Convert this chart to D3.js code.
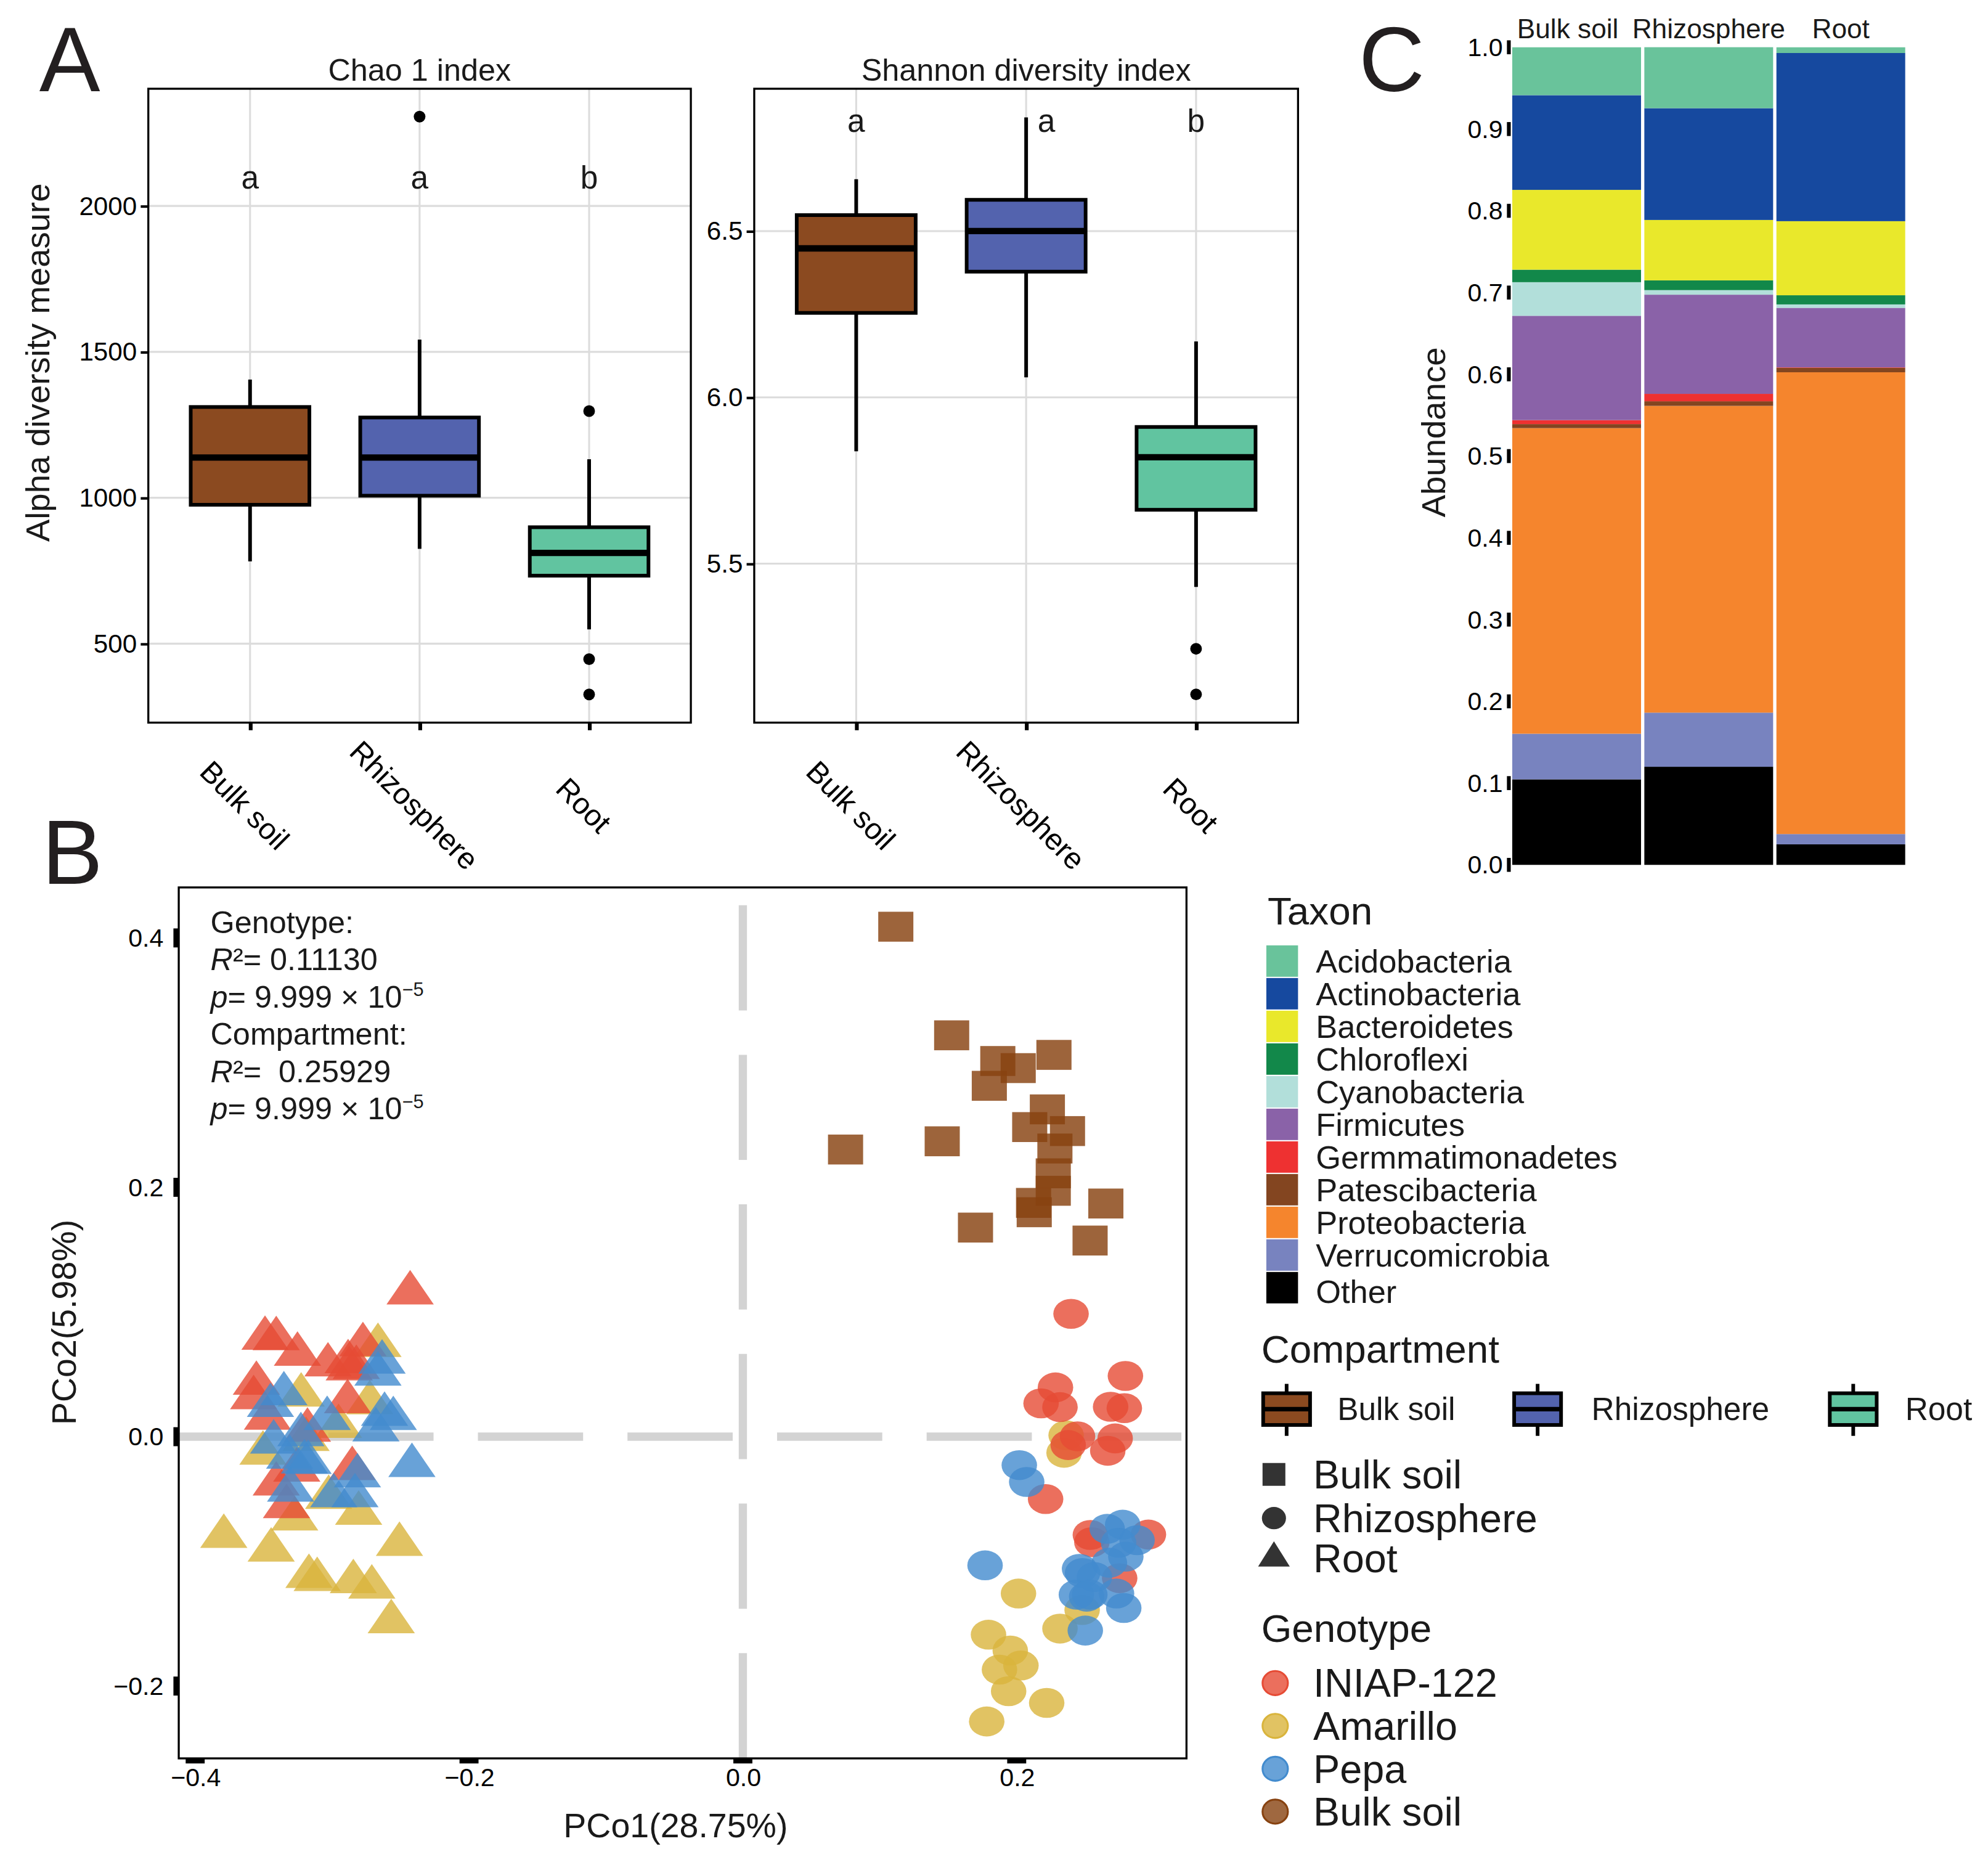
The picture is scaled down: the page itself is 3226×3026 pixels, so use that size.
<!DOCTYPE html>
<html>
<head>
<meta charset="utf-8">
<script src="https://cdn.jsdelivr.net/npm/d3@7"></script>
<style>
  body { margin: 0; background: #fff; }
  svg text { font-family: "Liberation Sans", Arial, Helvetica, sans-serif; }
</style>
</head>
<body>
<div id="chart"></div>
<script>
// ---------------- data ----------------
const compartments = ["Bulk soil", "Rhizosphere", "Root"];
const compartmentColors = ["#8b4a20", "#5363ae", "#61c4a0"];

// boxplot stats per compartment: [lower whisker, Q1, median, Q3, upper whisker]
const chaoStats = [
  [782, 976, 1138, 1311, 1405],
  [825, 1007, 1138, 1275, 1542],
  [549, 733, 811, 899, 1132]
];
const chaoOutliers = [[], [2306], [1297, 447, 326]];
const chaoLetters = ["a", "a", "b"];
const chaoTicks = [500, 1000, 1500, 2000];

const shannonStats = [
  [5.838, 6.254, 6.448, 6.548, 6.656],
  [6.060, 6.378, 6.500, 6.594, 6.842],
  [5.430, 5.662, 5.820, 5.911, 6.168]
];
const shannonOutliers = [[], [], [5.244, 5.107]];
const shannonLetters = ["a", "a", "b"];
const shannonTicks = [5.5, 6.0, 6.5];

const taxa = ["Acidobacteria", "Actinobacteria", "Bacteroidetes", "Chloroflexi", "Cyanobacteria",
  "Firmicutes", "Germmatimonadetes", "Patescibacteria", "Proteobacteria", "Verrucomicrobia", "Other"];
const taxaColors = ["#69c39b", "#16499f", "#e9e82b", "#12884a", "#b2dfda",
  "#8a62a8", "#ee3131", "#834520", "#f5852d", "#7883bf", "#000000"];
const abundBulk  = [0.0586, 0.1158, 0.0976, 0.0153, 0.0411, 0.1276, 0.0049, 0.0049, 0.3738, 0.0558, 0.1046];
const abundRhizo = [0.0746, 0.1367, 0.0739, 0.0119, 0.0056, 0.1213, 0.0091, 0.0056, 0.3752, 0.0662, 0.1200];
const abundRoot  = [0.0070, 0.2057, 0.0906, 0.0112, 0.0042, 0.0728, 0.0005, 0.0055, 0.5648, 0.0126, 0.0251];
const abundTicks = [0, 0.1, 0.2, 0.3, 0.4, 0.5, 0.6, 0.7, 0.8, 0.9, 1.0];

const genotypes = ["INIAP-122", "Amarillo", "Pepa", "Bulk soil"];
const genotypeColors = ["#e64b35", "#d9b43c", "#428bce", "#874210"];

// PCoA scores [PCo1, PCo2]
const bulkSoilPts = [[0.1117, 0.4090], [0.1525, 0.3219], [0.1862, 0.3013], [0.2011, 0.2956], [0.2272, 0.3062],
  [0.1800, 0.2814], [0.2224, 0.2625], [0.2095, 0.2483], [0.2371, 0.2451], [0.1456, 0.2369], [0.0750, 0.2303],
  [0.2279, 0.2311], [0.2267, 0.2112], [0.2267, 0.1972], [0.2123, 0.1875], [0.2128, 0.1800], [0.2651, 0.1870],
  [0.1699, 0.1677], [0.2536, 0.1573]];
const rhizoIniap = [[0.2397, 0.0985], [0.2283, 0.0395], [0.2178, 0.0267], [0.2316, 0.0237], [0.2794, 0.0487],
  [0.2686, 0.0240], [0.2786, 0.0229], [0.2444, 0.0003], [0.2719, -0.0014], [0.2665, -0.0113], [0.2376, -0.0067],
  [0.2211, -0.0500], [0.2538, -0.0788], [0.2549, -0.0846], [0.2962, -0.0785], [0.2752, -0.1135]];
const rhizoAmarillo = [[0.2361, 0.0011], [0.2346, -0.0129], [0.2013, -0.1258], [0.2478, -0.1390], [0.2316, -0.1539],
  [0.1794, -0.1588], [0.1953, -0.1715], [0.2031, -0.1835], [0.1874, -0.1868], [0.1941, -0.2041], [0.2219, -0.2135],
  [0.1781, -0.2284]];
const rhizoPepa = [[0.2019, -0.0228], [0.2073, -0.0363], [0.1769, -0.1032], [0.2661, -0.0739], [0.2774, -0.0706],
  [0.2879, -0.0830], [0.2744, -0.0851], [0.2797, -0.0962], [0.2677, -0.1011], [0.2459, -0.1060], [0.2481, -0.1093],
  [0.2568, -0.1126], [0.2436, -0.1267], [0.2511, -0.1283], [0.2534, -0.1267], [0.2729, -0.1258], [0.2782, -0.1374],
  [0.2501, -0.1555]];
const rootIniap = [[-0.2430, 0.1153], [-0.3490, 0.0789], [-0.3408, 0.0786], [-0.3253, 0.0661], [-0.2775, 0.0738],
  [-0.3030, 0.0575], [-0.2883, 0.0601], [-0.2875, 0.0544], [-0.2823, 0.0555], [-0.3553, 0.0428], [-0.3573, 0.0313],
  [-0.2887, 0.0280], [-0.3472, 0.0148], [-0.3180, 0.0052], [-0.2853, -0.0256], [-0.3408, -0.0380], [-0.3258, -0.0268],
  [-0.3333, -0.0561]];
const rootAmarillo = [[-0.2665, 0.0731], [-0.3226, 0.0334], [-0.2725, 0.0272], [-0.2953, 0.0082], [-0.3505, -0.0132],
  [-0.3190, -0.0022], [-0.3025, -0.0487], [-0.3791, -0.0800], [-0.3445, -0.0910], [-0.3273, -0.0660], [-0.2806, -0.0614],
  [-0.2508, -0.0864], [-0.3169, -0.1121], [-0.3109, -0.1146], [-0.2845, -0.1163], [-0.2710, -0.1206], [-0.2568, -0.1484]];
const rootPepa = [[-0.2635, 0.0598], [-0.2665, 0.0502], [-0.3352, 0.0344], [-0.3450, 0.0250], [-0.3036, 0.0146],
  [-0.2617, 0.0179], [-0.2553, 0.0145], [-0.2680, 0.0054], [-0.3427, -0.0043], [-0.3228, 0.0016], [-0.3310, -0.0165],
  [-0.3202, -0.0203], [-0.3175, -0.0207], [-0.2815, -0.0314], [-0.2833, -0.0474], [-0.2417, -0.0231], [-0.3303, -0.0429],
  [-0.2988, -0.0474]];
const pcoTicksX = [-0.4, -0.2, 0.0, 0.2];
const pcoTicksY = [-0.2, 0.0, 0.2, 0.4];

// ---------------- svg ----------------
// work in 1568 x 1471 units, scaled up to the full window
const W = 1568.3, H = 1471.1;
const svg = d3.select("#chart").append("svg")
  .attr("width", 3226).attr("height", 3026)
  .attr("viewBox", [0, 0, W, H]);

const ink = "#1a1a1a";

function panelLetter(x, y, t) {
  svg.append("text").attr("x", x).attr("y", y).attr("font-size", 72)
    .attr("fill", "#231f20").text(t);
}
panelLetter(31, 72, "A");
panelLetter(33, 697, "B");
panelLetter(1072, 72, "C");

// ---------------- panel A: boxplots ----------------
function boxPanel(p) {
  const x = d3.scalePoint().domain(compartments).range([p.left, p.right]).padding(0.6);
  const y = d3.scaleLinear().domain(p.domain).range([p.bottom, p.top]);
  const bw = x.step() * 0.7;
  const g = svg.append("g");

  // grid
  g.append("g").selectAll("line").data(p.ticks).join("line")
    .attr("x1", p.left).attr("x2", p.right)
    .attr("y1", d => y(d)).attr("y2", d => y(d))
    .attr("stroke", "#dcdcdc").attr("stroke-width", 1.5);
  g.append("g").selectAll("line").data(compartments).join("line")
    .attr("x1", d => x(d)).attr("x2", d => x(d))
    .attr("y1", p.top).attr("y2", p.bottom)
    .attr("stroke", "#dcdcdc").attr("stroke-width", 1.5);

  const boxes = g.append("g").selectAll("g").data(p.stats).join("g")
    .attr("transform", (d, i) => `translate(${x(compartments[i])},0)`);
  boxes.append("line").attr("y1", d => y(d[0])).attr("y2", d => y(d[1]))
    .attr("stroke", "#000").attr("stroke-width", 2.9);
  boxes.append("line").attr("y1", d => y(d[3])).attr("y2", d => y(d[4]))
    .attr("stroke", "#000").attr("stroke-width", 2.9);
  boxes.append("rect")
    .attr("x", -bw / 2).attr("width", bw)
    .attr("y", d => y(d[3])).attr("height", d => y(d[1]) - y(d[3]))
    .attr("fill", (d, i) => compartmentColors[i])
    .attr("stroke", "#000").attr("stroke-width", 2.9);
  boxes.append("line").attr("x1", -bw / 2).attr("x2", bw / 2)
    .attr("y1", d => y(d[2])).attr("y2", d => y(d[2]))
    .attr("stroke", "#000").attr("stroke-width", 5);
  boxes.each(function (d, i) {
    d3.select(this).selectAll("circle").data(p.outliers[i]).join("circle")
      .attr("cy", v => y(v)).attr("r", 4.6).attr("fill", "#000");
  });

  // significance letters
  g.append("g").selectAll("text").data(p.letters).join("text")
    .attr("x", (d, i) => x(compartments[i]) + p.letterNudge[i])
    .attr("y", y(p.letterAt) + 9)
    .attr("text-anchor", "middle").attr("font-size", 25).attr("fill", ink)
    .text(d => d);

  g.append("rect").attr("x", p.left).attr("y", p.top)
    .attr("width", p.right - p.left).attr("height", p.bottom - p.top)
    .attr("fill", "none").attr("stroke", "#000").attr("stroke-width", 1.6);

  g.append("text").attr("x", (p.left + p.right) / 2).attr("y", 63.5)
    .attr("text-anchor", "middle").attr("font-size", 24.5).attr("fill", ink)
    .text(p.title);

  const ya = g.append("g").attr("transform", `translate(${p.left},0)`)
    .call(d3.axisLeft(y).tickValues(p.ticks).tickSize(6).tickPadding(3).tickFormat(d3.format(p.fmt)));
  ya.select(".domain").remove();
  ya.selectAll("line").attr("stroke", "#000").attr("stroke-width", 2);
  ya.selectAll("text").attr("font-size", 20.5).attr("fill", "#000");

  const xa = g.append("g").attr("transform", `translate(0,${p.bottom})`)
    .call(d3.axisBottom(x).tickSize(6).tickFormat(""));
  xa.select(".domain").remove();
  xa.selectAll("line").attr("stroke", "#000").attr("stroke-width", 3);

  g.append("g").selectAll("text").data(compartments).join("text")
    .attr("transform", d => `translate(${x(d) - 10},641) rotate(45)`)
    .attr("text-anchor", "middle").attr("font-size", 23.5).attr("fill", "#000")
    .text(d => d);
}

boxPanel({
  left: 117, right: 545, top: 70, bottom: 570,
  domain: [229.5, 2401.5], ticks: chaoTicks, fmt: "d",
  stats: chaoStats, outliers: chaoOutliers,
  letters: chaoLetters, letterAt: 2098, letterNudge: [0, 0, 0],
  title: "Chao 1 index"
});
boxPanel({
  left: 595, right: 1024, top: 70, bottom: 570,
  domain: [5.022, 6.928], ticks: shannonTicks, fmt: ".1f",
  stats: shannonStats, outliers: shannonOutliers,
  letters: shannonLetters, letterAt: 6.833, letterNudge: [0, 16, 0],
  title: "Shannon diversity index"
});

svg.append("text").attr("transform", "translate(39,286) rotate(-90)")
  .attr("text-anchor", "middle").attr("font-size", 26.5).attr("fill", ink)
  .text("Alpha diversity measure");

// ---------------- panel C: stacked bars ----------------
{
  const rows = compartments.map((c, i) => {
    const r = { compartment: c };
    const vals = [abundBulk, abundRhizo, abundRoot][i];
    taxa.forEach((t, j) => { r[t] = vals[j]; });
    return r;
  });
  const series = d3.stack().keys(taxa.slice().reverse())(rows);
  const color = d3.scaleOrdinal(taxa, taxaColors);
  const xb = d3.scaleBand().domain(compartments).range([1193, 1503]).paddingInner(0.025);
  const yb = d3.scaleLinear().domain([0, 1]).range([682.2, 37.3]);
  const g = svg.append("g");

  g.selectAll("g").data(series).join("g")
    .attr("fill", s => color(s.key))
    .selectAll("rect").data(s => s).join("rect")
    .attr("x", d => xb(d.data.compartment))
    .attr("width", xb.bandwidth())
    .attr("y", d => yb(d[1]))
    .attr("height", d => Math.max(0, yb(d[0]) - yb(d[1])));

  const ya = g.append("g").attr("transform", "translate(1193,0)")
    .call(d3.axisLeft(yb).tickValues(abundTicks).tickSize(0).tickPadding(7.5).tickFormat(d3.format(".1f")));
  ya.select(".domain").remove();
  ya.selectAll("text").attr("font-size", 20).attr("fill", "#000");
  g.append("g").selectAll("rect").data(abundTicks).join("rect")
    .attr("x", 1188.8).attr("width", 3).attr("y", d => yb(d) - 5.5).attr("height", 11)
    .attr("fill", "#000");

  g.append("g").selectAll("text").data(compartments).join("text")
    .attr("x", d => xb(d) + xb.bandwidth() / 2 - (d === "Bulk soil" ? 7 : 0))
    .attr("y", 30).attr("text-anchor", "middle").attr("font-size", 21.5).attr("fill", ink)
    .text(d => d);

  svg.append("text").attr("transform", "translate(1140,341) rotate(-90)")
    .attr("text-anchor", "middle").attr("font-size", 26.5).attr("fill", ink)
    .text("Abundance");
}

// ---------------- panel B: PCoA ----------------
{
  const left = 141, right = 936, top = 700, bottom = 1387;
  const px = d3.scaleLinear().domain([-0.412, 0.324]).range([left, right]);
  const py = d3.scaleLinear().domain([-0.258, 0.4405]).range([bottom, top]);
  const g = svg.append("g");

  // long-dashed reference lines
  g.append("line").attr("x1", px(0)).attr("x2", px(0)).attr("y1", bottom).attr("y2", top)
    .attr("stroke", "#d3d3d3").attr("stroke-width", 6.5).attr("stroke-dasharray", "83 35");
  g.append("line").attr("x1", left).attr("x2", right).attr("y1", py(0)).attr("y2", py(0))
    .attr("stroke", "#d3d3d3").attr("stroke-width", 6.5).attr("stroke-dasharray", "83 35");

  const tw = 37.3, th = 27.2;
  const tri = `M0,${-2 * th / 3}L${tw / 2},${th / 3}L${-tw / 2},${th / 3}Z`;
  const alpha = 0.8;

  function triangles(pts, col) {
    g.append("g").selectAll("path").data(pts).join("path")
      .attr("d", tri).attr("transform", d => `translate(${px(d[0])},${py(d[1])})`)
      .attr("fill", col).attr("fill-opacity", alpha);
  }
  function ellipses(pts, col) {
    g.append("g").selectAll("ellipse").data(pts).join("ellipse")
      .attr("cx", d => px(d[0])).attr("cy", d => py(d[1]))
      .attr("rx", 14).attr("ry", 11.8)
      .attr("fill", col).attr("fill-opacity", alpha);
  }
  triangles(rootAmarillo, genotypeColors[1]);
  triangles(rootIniap, genotypeColors[0]);
  triangles(rootPepa, genotypeColors[2]);
  ellipses(rhizoAmarillo, genotypeColors[1]);
  ellipses(rhizoIniap, genotypeColors[0]);
  ellipses(rhizoPepa, genotypeColors[2]);
  g.append("g").selectAll("rect").data(bulkSoilPts).join("rect")
    .attr("x", d => px(d[0]) - 13.85).attr("y", d => py(d[1]) - 11.8)
    .attr("width", 27.7).attr("height", 23.6)
    .attr("fill", genotypeColors[3]).attr("fill-opacity", 0.82);

  g.append("rect").attr("x", left).attr("y", top)
    .attr("width", right - left).attr("height", bottom - top)
    .attr("fill", "none").attr("stroke", "#000").attr("stroke-width", 1.6);

  // axes
  const ya = g.append("g").attr("transform", `translate(${left},0)`)
    .call(d3.axisLeft(py).tickValues(pcoTicksY).tickSize(0).tickPadding(12).tickFormat(d3.format(".1f")));
  ya.select(".domain").remove();
  ya.selectAll("text").attr("font-size", 20).attr("fill", "#000");
  g.append("g").selectAll("rect").data(pcoTicksY).join("rect")
    .attr("x", left - 4.2).attr("width", 4.2).attr("y", d => py(d) - 7.5).attr("height", 15)
    .attr("fill", "#000");

  const xa = g.append("g").attr("transform", `translate(0,${bottom})`)
    .call(d3.axisBottom(px).tickValues(pcoTicksX).tickSize(0).tickPadding(7.5).tickFormat(d3.format(".1f")));
  xa.select(".domain").remove();
  xa.selectAll("text").attr("font-size", 20).attr("fill", "#000");
  g.append("g").selectAll("rect").data(pcoTicksX).join("rect")
    .attr("x", d => px(d) - 7.5).attr("width", 15).attr("y", bottom).attr("height", 4)
    .attr("fill", "#000");

  g.append("text").attr("x", 533).attr("y", 1449).attr("text-anchor", "middle")
    .attr("font-size", 27).attr("fill", ink).text("PCo1(28.75%)");
  g.append("text").attr("transform", "translate(60,1043) rotate(-90)").attr("text-anchor", "middle")
    .attr("font-size", 27).attr("fill", ink).text("PCo2(5.98%)");

  // PERMANOVA annotation
  const ann = g.append("g").attr("font-size", 24.5).attr("fill", ink);
  const lh = 29.4, ax = 166, ay = 736;
  function statLines(t, y0, r2, pv) {
    ann.append("text").attr("x", ax).attr("y", y0).text(t);
    const a = ann.append("text").attr("x", ax).attr("y", y0 + lh);
    a.append("tspan").attr("font-style", "italic").text("R");
    a.append("tspan").text("\u00b2= " + r2);
    const b = ann.append("text").attr("x", ax).attr("y", y0 + 2 * lh);
    b.append("tspan").attr("font-style", "italic").text("p");
    b.append("tspan").text("= " + pv + " \u00d7 10");
    b.append("tspan").attr("font-size", 15).attr("dy", -9).text("\u22125");
  }
  statLines("Genotype:", ay, "0.11130", "9.999");
  statLines("Compartment:", ay + 3 * lh, "\u00a00.25929", "9.999");
}

// ---------------- legends ----------------
{
  const lg = svg.append("g").attr("fill", ink);
  const color = d3.scaleOrdinal(taxa, taxaColors);

  // Taxon
  lg.append("text").attr("x", 1000).attr("y", 729).attr("font-size", 31).text("Taxon");
  const row = d3.scaleBand().domain(taxa).range([745.2, 1028.6]);
  lg.selectAll(".tkey").data(taxa).join("rect").attr("class", "tkey")
    .attr("x", 999).attr("y", d => row(d) + 0.5)
    .attr("width", 25).attr("height", row.bandwidth() - 1)
    .attr("fill", d => color(d));
  lg.selectAll(".tlab").data(taxa).join("text").attr("class", "tlab")
    .attr("x", 1038).attr("y", d => row(d) + row.bandwidth() / 2 + 9 + (d === "Other" ? 3 : 0))
    .attr("font-size", 25.5).text(d => d);

  // Compartment (boxplot fill)
  lg.append("text").attr("x", 995).attr("y", 1075).attr("font-size", 31).text("Compartment");
  const keyX = [995, 1193, 1442], labX = [1055, 1255.5, 1503];
  compartments.forEach((c, i) => {
    const k = lg.append("g").attr("transform", `translate(${keyX[i]},0)`);
    k.append("line").attr("x1", 20).attr("x2", 20).attr("y1", 1091.6).attr("y2", 1132.6)
      .attr("stroke", "#000").attr("stroke-width", 2.9);
    k.append("rect").attr("x", 1.5).attr("y", 1099).attr("width", 37).attr("height", 25)
      .attr("fill", compartmentColors[i]).attr("stroke", "#000").attr("stroke-width", 2.9);
    k.append("line").attr("x1", 1.5).attr("x2", 38.5).attr("y1", 1111.5).attr("y2", 1111.5)
      .attr("stroke", "#000").attr("stroke-width", 3.5);
    lg.append("text").attr("x", labX[i]).attr("y", 1120).attr("font-size", 25).text(c);
  });

  // shape key
  const shapeY = [1163, 1197.5, 1229];
  const dark = "#333333";
  lg.append("rect").attr("x", 996).attr("y", shapeY[0] - 9).attr("width", 18).attr("height", 18).attr("fill", dark);
  lg.append("ellipse").attr("cx", 1005).attr("cy", shapeY[1]).attr("rx", 9.5).attr("ry", 8.8).attr("fill", dark);
  lg.append("path").attr("d", `M0,-13.3L12.5,6.7L-12.5,6.7Z`)
    .attr("transform", `translate(1005,${shapeY[2]})`).attr("fill", dark);
  compartments.forEach((c, i) => {
    lg.append("text").attr("x", 1036).attr("y", shapeY[i] + 11).attr("font-size", 31.5).text(c);
  });

  // Genotype
  lg.append("text").attr("x", 995).attr("y", 1295).attr("font-size", 31).text("Genotype");
  genotypes.forEach((gname, i) => {
    const cy = 1327.6 + i * 33.8;
    lg.append("ellipse").attr("cx", 1006).attr("cy", cy).attr("rx", 10).attr("ry", 9.5)
      .attr("fill", genotypeColors[i]).attr("fill-opacity", 0.8)
      .attr("stroke", genotypeColors[i]).attr("stroke-width", 1.5);
    lg.append("text").attr("x", 1036).attr("y", cy + 11).attr("font-size", 31.5).text(gname);
  });
}
</script>
</body>
</html>
